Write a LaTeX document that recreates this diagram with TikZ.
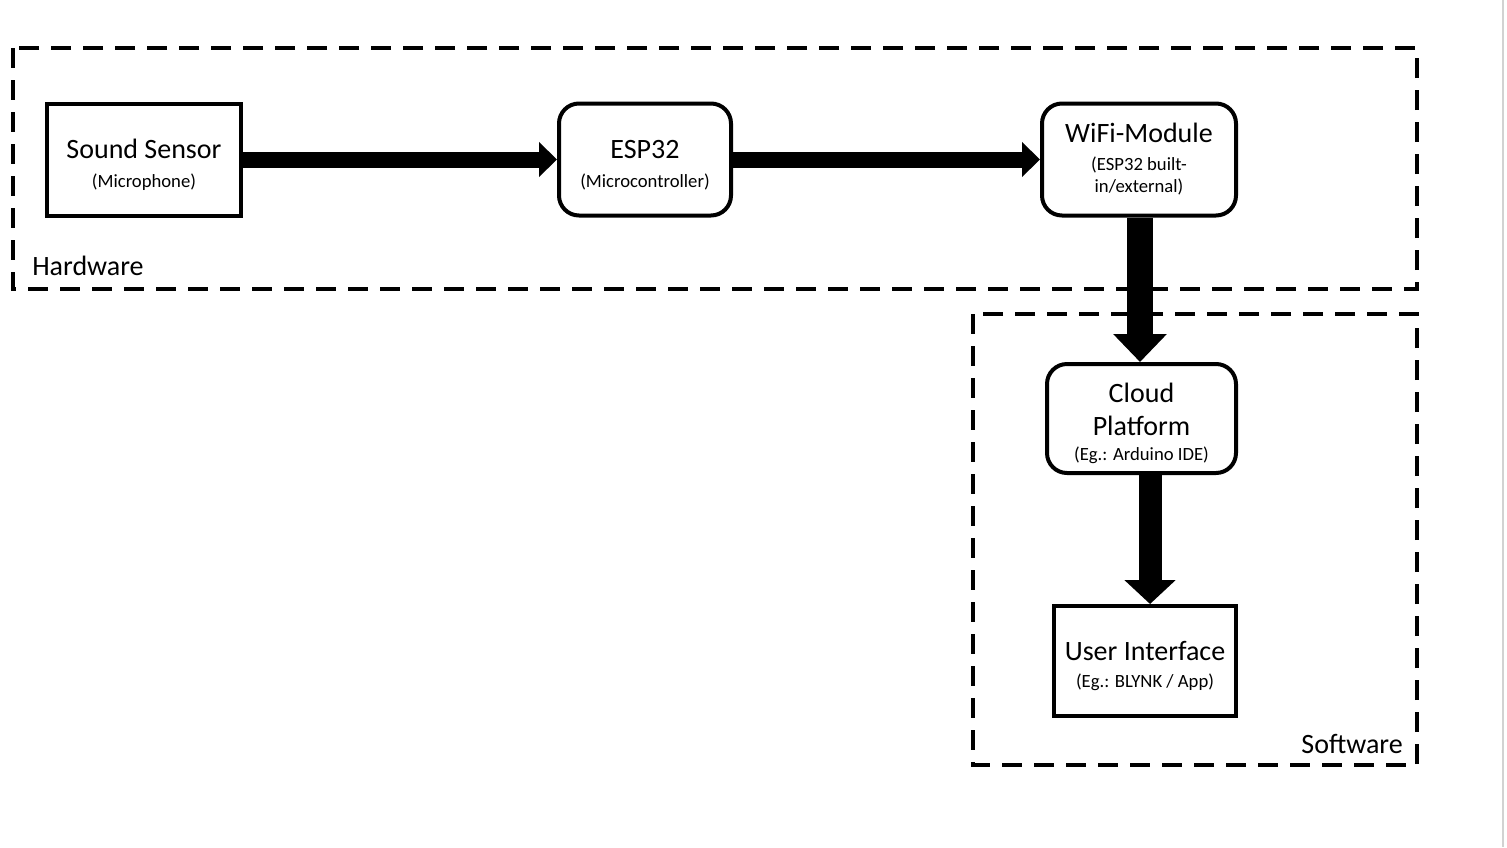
\documentclass[tikz,border=0pt]{standalone}
\usepackage{fontspec}
\setmainfont{Carlito}
\usetikzlibrary{arrows.meta, positioning}
\tikzset{block/.style={draw,line width=3pt,align=center,inner sep=0pt,font=\fontsize{21}{25}\selectfont}}
\tikzset{roundblock/.style={block,rounded corners=15pt}}
\tikzset{group/.style={draw,line width=3pt,dash pattern=on 15pt off 9pt}}
\tikzset{grouplabel/.style={inner sep=0pt,font=\fontsize{21}{25}\selectfont}}
\tikzset{flow/.style={line width=12pt,-{Triangle[length=13.5pt,width=25.5pt]}}}
\newcommand{\subtext}{\fontsize{14}{17}\selectfont}
\newcommand{\toprule}{\rule{0pt}{22pt}}

\begin{document}
\begin{tikzpicture}[x=0.75pt, y=-0.75pt]
\useasboundingbox (0,0) rectangle (1507,847);
\draw [gray!35, line width=1.5pt] (1503,0) -- (1503,847);

% Groups
\draw [group] (13,48) rectangle (1417,289);
\draw [group] (973,314) rectangle (1417,765);
\node [grouplabel, anchor=base west] (hw-label) at (32,275) {Hardware};
\node [grouplabel, anchor=base east] (sw-label) at (1403,753) {Software};

% Blocks
\node [block, minimum width=145.5pt, minimum height=84pt] (sensor) at (144,159.5)
  {\toprule Sound Sensor\\[-3.25pt]{\subtext (Microphone)}};
\node [roundblock, minimum width=129pt, minimum height=84pt] (esp) at (645,159.5)
  {\toprule ESP32\\[-3.25pt]{\subtext (Microcontroller)}};
\node [roundblock, minimum width=145.5pt, minimum height=84pt] (wifi) at (1139,159.5)
  {WiFi-Module\\[-4pt]{\subtext (ESP32 built-}\\[-8.5pt]{\subtext in/external)}};
\node [roundblock, minimum width=141.75pt, minimum height=81.75pt] (cloud) at (1141.5,418.5)
  {\toprule Cloud\\Platform\\[-6.25pt]{\subtext (Eg.: Arduino IDE)}};
\node [block, minimum width=136.5pt, minimum height=82.5pt] (ui) at (1145,661)
  {\toprule User Interface\\[-4.75pt]{\subtext (Eg.: BLYNK / App)}};

% Data flow
\foreach \a/\b in {sensor/esp, esp/wifi}
\draw [flow] (\a) -- (\b);

\draw [line width=19.5pt, -{Triangle[length=21pt,width=39pt]}]
  ([xshift=0.75pt]wifi.south) -- ([xshift=0.75pt]wifi.south |- cloud.north);
\draw [line width=17.25pt, -{Triangle[length=18pt,width=37.5pt]}]
  ([xshift=6.4pt]cloud.south) -- ([xshift=6.4pt]cloud.south |- ui.north);
\end{tikzpicture}
\end{document}
